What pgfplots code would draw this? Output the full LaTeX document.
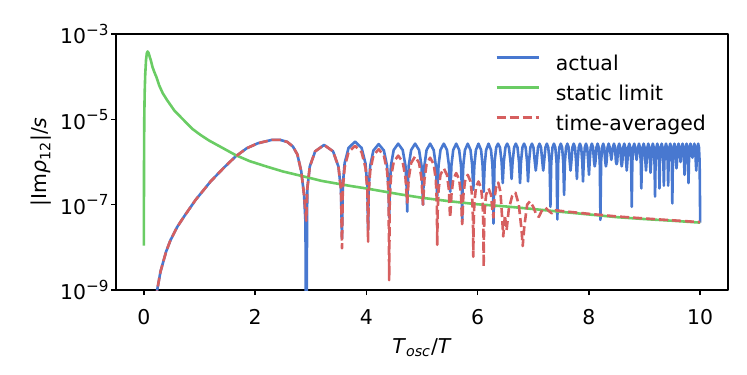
\documentclass[border=0pt]{standalone}
\usepackage{fontspec}
\setmainfont{DejaVu Sans}[ItalicFont={DejaVu Sans Oblique}]
\usepackage{pgfplots}
\pgfplotsset{compat=1.18}
\definecolor{cblue}{RGB}{72,120,208}
\definecolor{cgreen}{RGB}{106,204,100}
\definecolor{cred}{RGB}{214,95,95}
\newcommand{\pw}[1]{10\raisebox{0.42em}{\fontsize{7.6pt}{8pt}\selectfont #1}}
\begin{document}
\fontsize{10.2pt}{12pt}\selectfont
\begin{tikzpicture}
\useasboundingbox (-58pt,-42pt) rectangle (315.5pt,145pt);
\begin{axis}[
    scale only axis,
    width=306pt, height=128pt,
    xmin=-0.5, xmax=10.5,
    ymode=log, ymin=1e-9, ymax=1e-3,
    xtick={0,2,...,10},
    ytick={1e-9,1e-7,1e-5,1e-3},
    yticklabels={\pw{−9},\pw{−7},\pw{−5},\pw{−3}},
    xminorticks=false, yminorticks=false,
    /pgf/number format/assume math mode=true,
    tick align=outside, tick pos=left,
    major tick length=2.5pt,
    axis line style={line width=0.75pt},
    every tick/.style={black, line width=0.75pt},
    tick label style={inner sep=0pt},
    xticklabel style={yshift=-7pt},
    yticklabel style={xshift=-1pt},
    xlabel={\textit{T}\textsubscript{\textit{osc}}/\textit{T}},
    ylabel={|Im\textit{ρ}\textsubscript{12}|/\textit{s}},
    every axis x label/.style={at={(axis description cs:0.5,-0.227)}, anchor=center},
    every axis y label/.style={at={(axis description cs:-0.122,0.5)}, anchor=center, rotate=90},
    legend image code/.code={\draw[#1] (0pt,0.37em) -- (21pt,0.37em);},
    legend cell align=left,
    legend style={draw=none, fill=none, at={(axis description cs:0.619,0.918)}, anchor=north west,
        inner sep=0pt, row sep=5.3pt,
        nodes={inner sep=0pt, text height=7.5pt, text depth=2.2pt},
        /tikz/every odd column/.append style={column sep=8pt}},
    line join=round,
]
\addplot[cblue, line width=1.3pt] coordinates {
(0.20,3.0e-10)(0.24,1.0e-9)(0.30,2.7e-9)(0.40,7.9e-9)(0.48,1.48e-8)(0.60,3.0e-8)(0.72,5.2e-8)(0.93,1.29e-7)
(1.20,3.5e-7)(1.45,7.6e-7)(1.65,1.35e-6)(1.85,2.1e-6)(2.05,2.75e-6)(2.30,3.3e-6)
(2.45,3.3e-6)(2.58,2.95e-6)(2.68,2.3e-6)(2.76,1.5e-6)(2.83,6.0e-7)(2.88,1.7e-7)(2.905,4.0e-8)(2.919,1e-11)
(2.938,2.34e-7)(2.983,7.8e-7)(3.080,1.78e-6)(3.240,2.51e-6)(3.401,1.78e-6)(3.498,7.8e-7)(3.543,2.34e-7)(3.562,1.6e-8)
(3.576,2.8e-7)(3.609,9.3e-7)(3.679,2.14e-6)(3.797,3.0e-6)(3.914,2.14e-6)(3.984,9.3e-7)(4.017,2.8e-7)(4.031,2.5e-8)
(4.042,2.45e-7)(4.069,8.1e-7)(4.126,1.86e-6)(4.221,2.63e-6)(4.315,1.86e-6)(4.372,8.1e-7)(4.399,2.45e-7)(4.410,5.0e-8)
(4.420,2.51e-7)(4.442,8.3e-7)(4.491,1.91e-6)(4.572,2.69e-6)(4.653,1.91e-6)(4.702,8.3e-7)(4.724,2.51e-7)(4.734,6.9e-8)
(4.743,2.51e-7)(4.762,8.3e-7)(4.805,1.91e-6)(4.876,2.69e-6)(4.947,1.91e-6)(4.990,8.3e-7)(5.009,2.51e-7)(5.018,1.0e-7)
(5.026,2.51e-7)(5.044,8.3e-7)(5.082,1.91e-6)(5.146,2.69e-6)(5.210,1.91e-6)(5.248,8.3e-7)(5.266,2.51e-7)(5.274,1.6e-7)
(5.281,2.51e-7)(5.297,8.3e-7)(5.332,1.91e-6)(5.391,2.69e-6)(5.449,1.91e-6)(5.484,8.3e-7)(5.500,2.51e-7)(5.507,2.0e-7)
(5.513,2.51e-7)(5.529,8.3e-7)(5.561,1.91e-6)(5.615,2.69e-6)(5.668,1.91e-6)(5.701,8.3e-7)(5.716,2.51e-7)(5.722,4.0e-8)
(5.728,2.51e-7)(5.742,8.3e-7)(5.772,1.91e-6)(5.822,2.69e-6)(5.872,1.91e-6)(5.902,8.3e-7)(5.922,2.24e-7)
(5.941,8.3e-7)(5.969,1.91e-6)(6.015,2.69e-6)(6.062,1.91e-6)(6.089,8.3e-7)(6.108,2.0e-7)
(6.126,8.3e-7)(6.152,1.91e-6)(6.196,2.69e-6)(6.240,1.91e-6)(6.266,8.3e-7)(6.279,2.51e-7)(6.284,3.6e-8)
(6.304,1.0e-6)(6.334,2.2e-6)(6.368,2.69e-6)(6.401,2.2e-6)(6.431,1.0e-6)(6.451,3.2e-7)
(6.470,1.0e-6)(6.499,2.2e-6)(6.531,2.69e-6)(6.562,2.2e-6)(6.591,1.0e-6)(6.610,4.0e-7)
(6.628,1.0e-6)(6.656,2.2e-6)(6.686,2.69e-6)(6.716,2.2e-6)(6.744,1.0e-6)(6.762,3.2e-7)
(6.779,1.0e-6)(6.805,2.2e-6)(6.834,2.69e-6)(6.863,2.2e-6)(6.889,1.0e-6)(6.906,3.5e-7)
(6.923,1.0e-6)(6.948,2.2e-6)(6.976,2.69e-6)(7.003,2.2e-6)(7.028,1.0e-6)(7.045,6.3e-7)
(7.061,1.0e-6)(7.085,2.2e-6)(7.112,2.69e-6)(7.139,2.2e-6)(7.163,1.0e-6)(7.179,6.3e-7)
(7.194,1.0e-6)(7.218,2.2e-6)(7.244,2.69e-6)(7.269,2.2e-6)(7.293,1.0e-6)(7.308,8.9e-8)
(7.323,1.0e-6)(7.346,2.2e-6)(7.371,2.69e-6)(7.396,2.2e-6)(7.418,1.0e-6)(7.433,4.5e-8)
(7.448,1.0e-6)(7.469,2.2e-6)(7.494,2.69e-6)(7.518,2.2e-6)(7.539,1.0e-6)(7.554,1.7e-7)
(7.568,1.0e-6)(7.589,2.2e-6)(7.612,2.69e-6)(7.635,2.2e-6)(7.656,1.0e-6)(7.670,6.3e-7)
(7.684,1.0e-6)(7.704,2.2e-6)(7.727,2.69e-6)(7.750,2.2e-6)(7.770,1.0e-6)(7.784,4.0e-7)
(7.797,1.0e-6)(7.817,2.2e-6)(7.839,2.69e-6)(7.861,2.2e-6)(7.881,1.0e-6)(7.894,3.5e-7)
(7.907,1.0e-6)(7.926,2.2e-6)(7.948,2.69e-6)(7.969,2.2e-6)(7.988,1.0e-6)(8.001,5.0e-7)
(8.013,1.0e-6)(8.032,2.2e-6)(8.053,2.69e-6)(8.074,2.2e-6)(8.093,1.0e-6)(8.105,7.9e-7)
(8.117,1.0e-6)(8.136,2.2e-6)(8.156,2.69e-6)(8.176,2.2e-6)(8.195,1.0e-6)(8.207,4.4e-8)
(8.219,1.0e-6)(8.237,2.2e-6)(8.257,2.69e-6)(8.276,2.2e-6)(8.294,1.0e-6)(8.306,7.9e-7)
(8.318,1.0e-6)(8.335,2.2e-6)(8.355,2.69e-6)(8.374,2.2e-6)(8.403,1.12e-6)
(8.431,2.2e-6)(8.450,2.69e-6)(8.469,2.2e-6)(8.486,1.0e-6)(8.497,8.9e-7)
(8.508,1.0e-6)(8.525,2.2e-6)(8.544,2.69e-6)(8.562,2.2e-6)(8.579,1.0e-6)(8.590,7.9e-7)
(8.601,1.0e-6)(8.617,2.2e-6)(8.635,2.69e-6)(8.653,2.2e-6)(8.669,1.0e-6)(8.680,6.3e-7)
(8.691,1.0e-6)(8.707,2.2e-6)(8.725,2.69e-6)(8.743,2.2e-6)(8.759,1.0e-6)(8.770,8.9e-8)
(8.780,1.0e-6)(8.796,2.2e-6)(8.814,2.69e-6)(8.831,2.2e-6)(8.857,1.12e-6)
(8.883,2.2e-6)(8.900,2.69e-6)(8.917,2.2e-6)(8.932,1.0e-6)(8.942,2.4e-7)
(8.952,1.0e-6)(8.967,2.2e-6)(8.984,2.69e-6)(9.001,2.2e-6)(9.016,1.0e-6)(9.026,6.3e-7)
(9.036,1.0e-6)(9.051,2.2e-6)(9.067,2.69e-6)(9.083,2.2e-6)(9.098,1.0e-6)(9.108,5.6e-7)
(9.118,1.0e-6)(9.132,2.2e-6)(9.149,2.69e-6)(9.165,2.2e-6)(9.179,1.0e-6)(9.189,1.55e-7)
(9.198,1.0e-6)(9.213,2.2e-6)(9.229,2.69e-6)(9.244,2.2e-6)(9.259,1.0e-6)(9.268,2.4e-7)
(9.277,1.0e-6)(9.292,2.2e-6)(9.308,2.69e-6)(9.323,2.2e-6)(9.338,1.0e-6)(9.347,2.8e-7)
(9.356,1.0e-6)(9.370,2.2e-6)(9.386,2.69e-6)(9.401,2.2e-6)(9.415,1.0e-6)(9.424,2.8e-7)
(9.433,1.0e-6)(9.447,2.2e-6)(9.462,2.69e-6)(9.477,2.2e-6)(9.490,1.0e-6)(9.499,1.07e-7)
(9.508,1.0e-6)(9.522,2.2e-6)(9.537,2.69e-6)(9.552,2.2e-6)(9.565,1.0e-6)(9.574,7.1e-7)
(9.583,1.0e-6)(9.596,2.2e-6)(9.611,2.69e-6)(9.625,2.2e-6)(9.647,1.0e-6)
(9.669,2.2e-6)(9.683,2.69e-6)(9.697,2.2e-6)(9.710,1.0e-6)(9.719,5.0e-7)
(9.728,1.0e-6)(9.740,2.2e-6)(9.755,2.69e-6)(9.769,2.2e-6)(9.781,1.0e-6)(9.790,3.2e-7)
(9.798,1.0e-6)(9.811,2.2e-6)(9.825,2.69e-6)(9.839,2.2e-6)(9.860,1.26e-6)
(9.881,2.2e-6)(9.895,2.69e-6)(9.908,2.2e-6)(9.921,1.0e-6)(9.929,6.3e-7)
(9.937,1.0e-6)(9.950,2.2e-6)(9.964,2.69e-6)(9.978,2.2e-6)(9.990,1.0e-6)(10.0,3.8e-8)
};
\addlegendentry{actual}
\addplot[cgreen, line width=1.3pt] coordinates {
(0,1.1e-8)(0.004,1.0e-6)(0.008,1.0e-5)(0.015,4.0e-5)(0.025,1.1e-4)(0.04,2.5e-4)(0.055,3.6e-4)(0.068,3.9e-4)
(0.085,3.6e-4)(0.105,2.95e-4)(0.125,2.45e-4)(0.155,1.7e-4)(0.185,1.32e-4)(0.23,9.5e-5)(0.275,6.3e-5)(0.34,4.1e-5)
(0.42,2.8e-5)(0.55,1.6e-5)(0.72,9.5e-6)(0.87,6.0e-6)(1.02,4.3e-6)(1.17,3.2e-6)(1.32,2.5e-6)(1.65,1.45e-6)
(1.9,1.05e-6)(2.21,7.8e-7)(2.5,6.0e-7)(2.81,4.8e-7)(3.2,3.6e-7)(3.71,2.75e-7)(4.0,2.4e-7)(4.6,1.75e-7)
(5.0,1.45e-7)(5.5,1.2e-7)(6.0,1.02e-7)(6.5,9.1e-8)(7.0,7.9e-8)(7.5,6.8e-8)(8.0,5.9e-8)(8.5,5.1e-8)
(9.0,4.6e-8)(9.5,4.2e-8)(10.0,3.8e-8)
};
\addlegendentry{static limit}
\addplot[cred, line width=1.3pt, dash pattern=on 4.5pt off 2pt] coordinates {
(0.20,3.0e-10)(0.24,1.0e-9)(0.30,2.7e-9)(0.40,7.9e-9)(0.48,1.48e-8)(0.60,3.0e-8)(0.72,5.2e-8)(0.93,1.29e-7)
(1.20,3.5e-7)(1.45,7.6e-7)(1.65,1.35e-6)(1.85,2.1e-6)(2.05,2.75e-6)(2.30,3.3e-6)
(2.45,3.3e-6)(2.58,2.95e-6)(2.68,2.3e-6)(2.76,1.5e-6)(2.83,6.0e-7)(2.88,1.7e-7)(2.919,4.2e-8)
(2.938,2.34e-7)(2.983,7.8e-7)(3.080,1.78e-6)(3.240,2.51e-6)(3.401,1.78e-6)(3.498,7.8e-7)(3.543,2.34e-7)(3.562,9.5e-9)
(3.576,2.24e-7)(3.609,7.4e-7)(3.679,1.7e-6)(3.797,2.4e-6)(3.914,1.7e-6)(3.984,7.4e-7)(4.017,2.24e-7)(4.031,1.35e-8)
(4.042,1.86e-7)(4.069,6.2e-7)(4.126,1.41e-6)(4.221,2.0e-6)(4.315,1.41e-6)(4.372,6.2e-7)(4.399,1.86e-7)(4.410,1.7e-9)
(4.420,1.32e-7)(4.442,4.4e-7)(4.491,1.0e-6)(4.572,1.41e-6)(4.653,1.0e-6)(4.702,4.4e-7)(4.734,1.12e-7)
(4.762,4.2e-7)(4.805,9.5e-7)(4.876,1.35e-6)(4.947,9.5e-7)(4.990,4.2e-7)(5.018,1.0e-7)
(5.044,3.9e-7)(5.082,8.9e-7)(5.146,1.26e-6)(5.210,8.9e-7)(5.248,3.9e-7)(5.266,1.17e-7)(5.274,1.15e-8)
(5.281,6.6e-8)(5.297,2.2e-7)(5.332,5.0e-7)(5.391,7.1e-7)(5.449,5.0e-7)(5.484,2.2e-7)(5.500,6.6e-8)(5.507,5.0e-8)
(5.529,1.7e-7)(5.561,3.9e-7)(5.615,5.5e-7)(5.668,3.9e-7)(5.701,1.7e-7)(5.716,5.1e-8)(5.722,3.5e-8)
(5.728,4.7e-8)(5.742,1.55e-7)(5.772,3.5e-7)(5.822,5.0e-7)(5.872,3.5e-7)(5.902,1.55e-7)(5.916,4.7e-8)(5.922,6.0e-9)
(5.928,3.3e-8)(5.941,1.1e-7)(5.969,2.5e-7)(6.015,3.5e-7)(6.062,2.5e-7)(6.089,1.1e-7)(6.102,3.3e-8)(6.108,3.5e-9)
(6.114,2.2e-8)(6.126,7.4e-8)(6.152,1.7e-7)(6.196,2.4e-7)(6.240,1.7e-7)(6.266,7.4e-8)(6.284,5.0e-8)
(6.30,1.26e-7)(6.33,2.5e-7)(6.37,3.3e-7)(6.41,2.0e-7)(6.44,5.0e-8)(6.46,1.8e-8)(6.49,5.6e-8)(6.52,2.5e-8)
(6.56,7.9e-8)(6.62,1.6e-7)(6.68,1.9e-7)(6.74,1.0e-7)(6.79,2.5e-8)(6.81,1.07e-8)(6.84,3.2e-8)(6.89,1.0e-7)
(6.94,1.2e-7)(7.00,8.9e-8)(7.06,5.6e-8)(7.10,5.2e-8)(7.15,7.1e-8)(7.22,8.5e-8)(7.28,7.1e-8)(7.33,6.3e-8)
(7.40,7.4e-8)(7.47,7.2e-8)(7.55,7.0e-8)(8.0,6.1e-8)(8.5,5.3e-8)(9.0,4.75e-8)(9.5,4.3e-8)(10.0,3.9e-8)
};
\addlegendentry{time-averaged}
\end{axis}
\end{tikzpicture}
\end{document}
